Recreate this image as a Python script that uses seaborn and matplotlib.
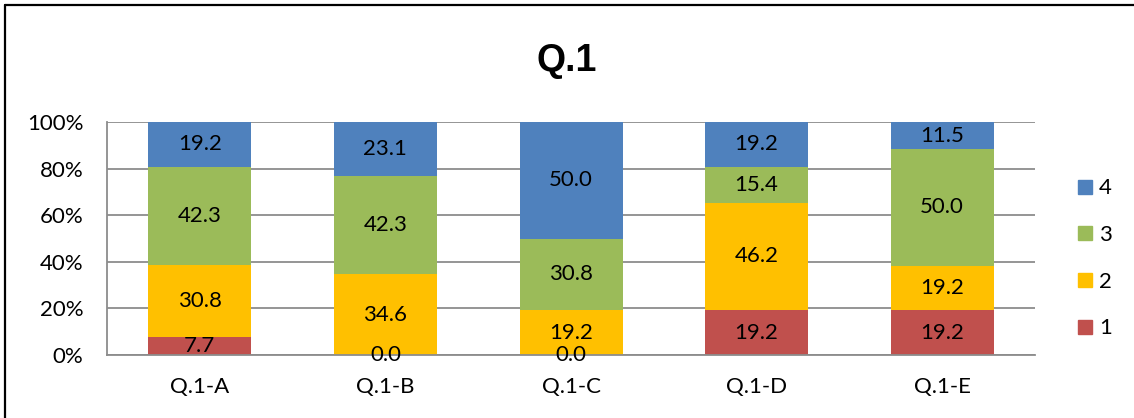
import matplotlib
matplotlib.use("Agg")
import matplotlib.pyplot as plt
from matplotlib.lines import Line2D
import seaborn as sns
import pandas as pd
import numpy as np

categories = ["Q.1-A", "Q.1-B", "Q.1-C", "Q.1-D", "Q.1-E"]
series_names = ["1", "2", "3", "4"]
s1 = [7.7, 0.0, 0.0, 19.2, 19.2]
s2 = [30.8, 34.6, 19.2, 46.2, 19.2]
s3 = [42.3, 42.3, 30.8, 15.4, 50.0]
s4 = [19.2, 23.1, 50.0, 19.2, 11.5]
yticks = [0, 20, 40, 60, 80, 100]
title = "Q.1"

colors = {"1": "#C0504D", "2": "#FFC000", "3": "#9BBB59", "4": "#4F81BD"}

sns.set_theme(style="white")
plt.rcParams["font.family"] = ["Lato", "DejaVu Sans"]
plt.rcParams["text.color"] = "black"

values = np.array([s1, s2, s3, s4])
bottoms = np.vstack([np.zeros(len(categories)), np.cumsum(values, axis=0)[:-1]])
tops = np.cumsum(values, axis=0)

rows = []
for i, name in enumerate(series_names):
    for j, cat in enumerate(categories):
        rows.append({"cat": cat, "series": name, "value": values[i, j],
                     "bottom": bottoms[i, j], "top": tops[i, j]})
df = pd.DataFrame(rows)

fig = plt.figure(figsize=(11.34, 4.18), dpi=100)
ax = fig.add_axes([0.0944, 0.1507, 0.8183, 0.5574])

# stacked segments: draw cumulative tops from the highest series down
for name in reversed(series_names):
    sub = df[df["series"] == name]
    sns.barplot(data=sub, x="cat", y="top", order=categories, color=colors[name],
                width=0.555, ax=ax, saturation=1, linewidth=0, errorbar=None, zorder=2)

FS = 16

# value labels centred on each segment
for _, r in df.iterrows():
    xi = categories.index(r["cat"])
    ax.text(xi, r["bottom"] + r["value"] / 2, f"{r['value']:.1f}", ha="center", va="center",
            fontsize=FS, color="#000000", zorder=5)

ax.set_ylim(0, 100)
ax.set_xlim(-0.5, len(categories) - 0.5)
ax.set_yticks(yticks)
ax.set_yticklabels([f"{t}%" for t in yticks])
ax.set_xlabel("")
ax.set_ylabel("")
ax.yaxis.grid(True, color="#8C8C8C", linewidth=1.3, zorder=0)
ax.set_axisbelow(True)
for side in ["top", "right"]:
    ax.spines[side].set_visible(False)
for side in ["left", "bottom"]:
    ax.spines[side].set_color("#8C8C8C")
    ax.spines[side].set_linewidth(1.3)
ax.tick_params(axis="y", length=0, pad=17, labelsize=FS, labelcolor="#000000")
ax.tick_params(axis="x", length=0, pad=16, labelsize=FS, labelcolor="#000000")

handles = [Line2D([0], [0], marker="s", linestyle="", markersize=10.5,
                  markerfacecolor=colors[n], markeredgecolor=colors[n]) for n in reversed(series_names)]
ax.legend(handles, list(reversed(series_names)), loc="center left", bbox_to_anchor=(1.02, 0.415),
          frameon=False, fontsize=FS, labelspacing=1.2, handletextpad=0.15, handlelength=1.0,
          labelcolor="black")

fig.text(0.5, 0.855, title, ha="center", va="center", fontsize=27, fontweight="bold",
         color="black", family=["Liberation Sans", "DejaVu Sans"])

# outer chart frame (left and top edges)
fig.add_artist(Line2D([5 / 1134, 5 / 1134], [0, 1 - 5 / 418], transform=fig.transFigure,
                      color="black", linewidth=1.6))
fig.add_artist(Line2D([5 / 1134, 1], [1 - 5 / 418, 1 - 5 / 418], transform=fig.transFigure,
                      color="black", linewidth=1.6))

fig.savefig("out.png", dpi=100, facecolor="white")
